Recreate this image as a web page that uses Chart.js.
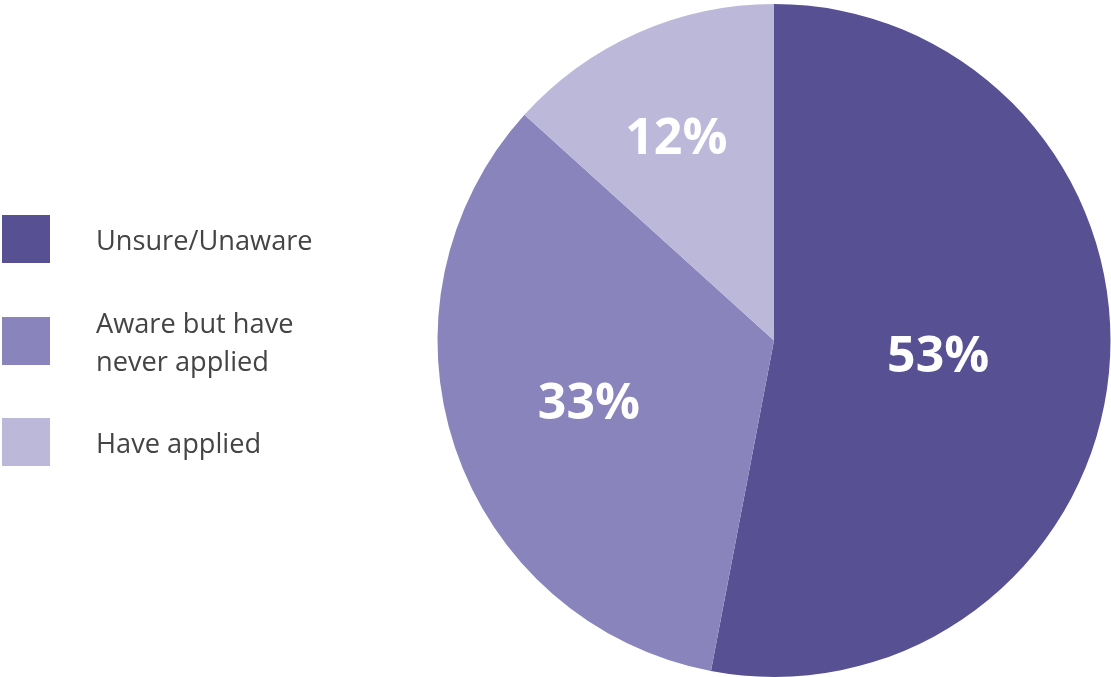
<!DOCTYPE html>
<html>
<head>
<meta charset="utf-8">
<script src="https://cdn.jsdelivr.net/npm/chart.js@4"></script>
<style>
  html, body { margin: 0; padding: 0; background: #fff; }
  #wrap { position: relative; width: 1111px; height: 677px; }
  #chart { position: absolute; left: 0; top: 0; }
  #legend { position: absolute; left: 0; top: 0; font-family: "Open Sans", sans-serif; color: #444; font-size: 27.2px; }
  .item { position: absolute; left: 2px; }
  .box { position: absolute; left: 0; top: 0; width: 48px; height: 48px; }
  .txt { position: absolute; left: 94px; line-height: 38px; white-space: nowrap; }
</style>
</head>
<body>
<div id="wrap">
  <canvas id="chart" width="1111" height="677"></canvas>
  <div id="legend"></div>
</div>
<script>
// data
const categories = ["Unsure/Unaware", "Aware but have never applied", "Have applied"];
const legendLines = [["Unsure/Unaware"], ["Aware but have", "never applied"], ["Have applied"]];
const shares = [53, 33.7, 13.3]; // slice sizes as drawn
const pctLabels = ["53%", "33%", "12%"];
const colors = ["#575093", "#8a84bd", "#bcb8da"];

// legend on the left
const legend = document.getElementById("legend");
const legendTops = [215, 317, 418];
categories.forEach((c, i) => {
  const item = document.createElement("div");
  item.className = "item";
  item.style.top = legendTops[i] + "px";
  const box = document.createElement("div");
  box.className = "box";
  box.style.background = colors[i];
  const txt = document.createElement("div");
  txt.className = "txt";
  const lines = legendLines[i];
  txt.style.top = (24 - lines.length * 19 + 1) + "px";
  txt.innerHTML = lines.join("<br>");
  item.appendChild(box);
  item.appendChild(txt);
  legend.appendChild(item);
});

// percentage text inside slices (radius fraction + small angle nudge)
const labelRadius = [0.49, 0.58, 0.67];
const labelNudge = [0, 0, -0.03];
const pctPlugin = {
  id: "pctText",
  afterDatasetsDraw(chart) {
    const c = chart.ctx;
    const arcs = chart.getDatasetMeta(0).data;
    c.save();
    c.fillStyle = "#fff";
    c.font = "bold 50px 'Open Sans', sans-serif";
    c.textAlign = "center";
    c.textBaseline = "middle";
    arcs.forEach((arc, i) => {
      const mid = (arc.startAngle + arc.endAngle) / 2 + labelNudge[i];
      const r = arc.outerRadius * labelRadius[i];
      c.fillText(pctLabels[i], arc.x + Math.cos(mid) * r, arc.y + Math.sin(mid) * r + 2);
    });
    c.restore();
  }
};

new Chart(document.getElementById("chart"), {
  type: "pie",
  data: {
    labels: categories,
    datasets: [{
      data: shares,
      backgroundColor: colors,
      borderWidth: 0
    }]
  },
  options: {
    responsive: false,
    animation: false,
    layout: { padding: { left: 437, right: 0, top: 4, bottom: 0 } },
    plugins: {
      legend: { display: false },
      tooltip: { enabled: false }
    }
  },
  plugins: [pctPlugin]
});
</script>
</body>
</html>
